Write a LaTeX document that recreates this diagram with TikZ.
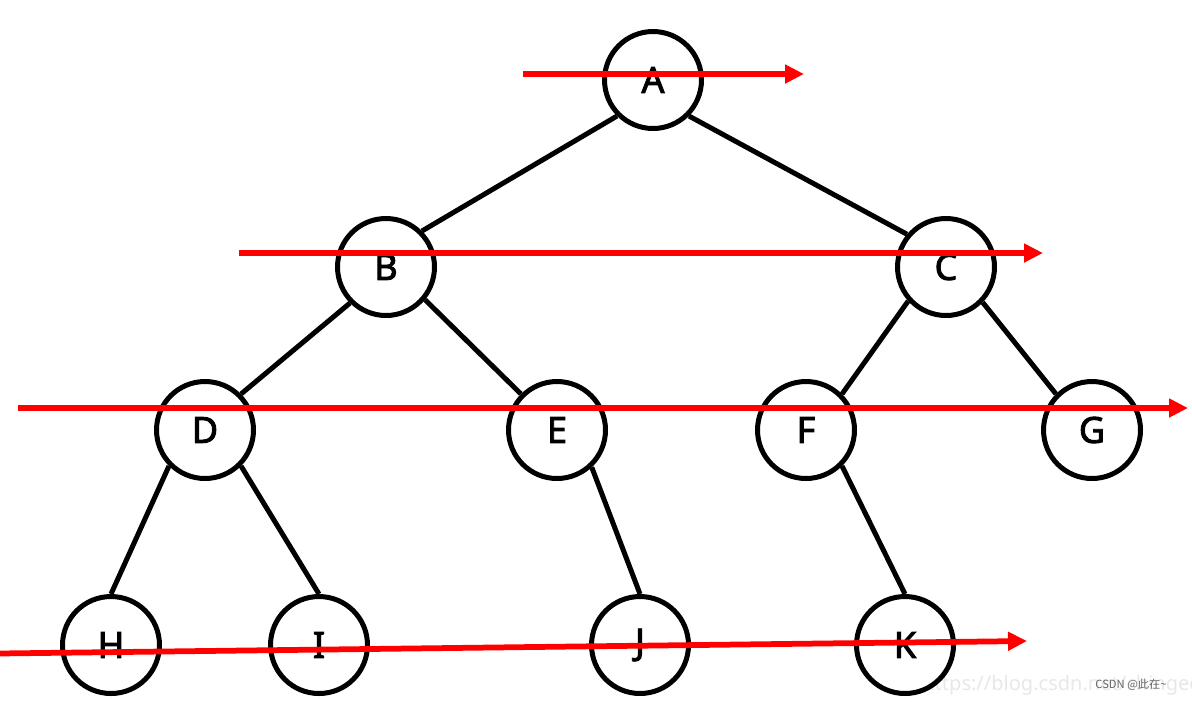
\documentclass[tikz,border=0pt]{standalone}
\usepackage{fontspec}
\setmainfont{Noto Sans}
\newfontfamily\lblfont[FakeBold=2.5]{Noto Sans}
\newfontfamily\cjk{Noto Sans CJK SC}
\usetikzlibrary{arrows.meta}
\begin{document}
\begin{tikzpicture}[x=0.02cm,y=-0.02cm,
  tnode/.style={circle,draw=black,line width=0.1cm,minimum size=1.94cm,inner sep=0pt,fill=white,font=\lblfont\fontsize{20.5}{20.5}\selectfont},
  tedge/.style={draw=black,line width=0.1cm},
  redarrow/.style={draw=red,line width=0.115cm,-{Triangle[length=0.38cm,width=0.36cm]}}]
\clip (0,0) rectangle (1192,701);
\fill[white] (0,0) rectangle (1192,701);
% watermark
\node[anchor=base west,inner sep=0pt,text=black!9,font=\fontsize{11.4}{11.4}\selectfont] (wm) at (922,690) {https://blog.csdn.net/chingeeko};
% nodes
\node[tnode] (A) at (653,80) {A};
\node[tnode] (B) at (386,267) {B};
\node[tnode] (C) at (946,267) {C};
\node[tnode] (D) at (205,430) {D};
\node[tnode] (E) at (557,430) {E};
\node[tnode] (F) at (806,430) {F};
\node[tnode] (G) at (1092,430) {G};
\node[tnode] (H) at (111,645) {H};
\node[tnode] (I) at (319,645) {I};
\node[tnode] (J) at (640,645) {J};
\node[tnode] (K) at (905,645) {K};
% edges
\draw[tedge] (A.225) -- (B.45);
\draw[tedge] (A.-45) -- (C.140);
\draw[tedge] (B.225) -- (D.45);
\draw[tedge] (B.-40) -- (E.135);
\draw[tedge] (C.222) -- (F.45);
\draw[tedge] (C.-44) -- (G.135);
\draw[tedge] (D.225) -- (H.north);
\draw[tedge] (D.-45) -- (I.north);
\draw[tedge] (E.-47) -- (J.north);
\draw[tedge] (F.-45) -- (K.north);
% red level arrows
\coordinate (r1s) at (523,74);
\coordinate (r1e) at (804,74);
\coordinate (r2s) at (239,253);
\coordinate (r2e) at (1043,253);
\coordinate (r3s) at (18,408);
\coordinate (r3e) at (1188,408);
\coordinate (r4s) at (-2,653.5);
\coordinate (r4e) at (1027,641);
\draw[redarrow] (r1s) -- (r1e);
\draw[redarrow] (r2s) -- (r2e);
\draw[redarrow] (r3s) -- (r3e);
\draw[redarrow] (r4s) -- (r4e);
% CSDN label
\node[anchor=west,inner sep=0pt,text=black!60,font=\cjk\fontsize{6.4}{6.4}\selectfont] (csdn) at (1095,685) {CSDN @此在\char"007E};
\end{tikzpicture}
\end{document}
